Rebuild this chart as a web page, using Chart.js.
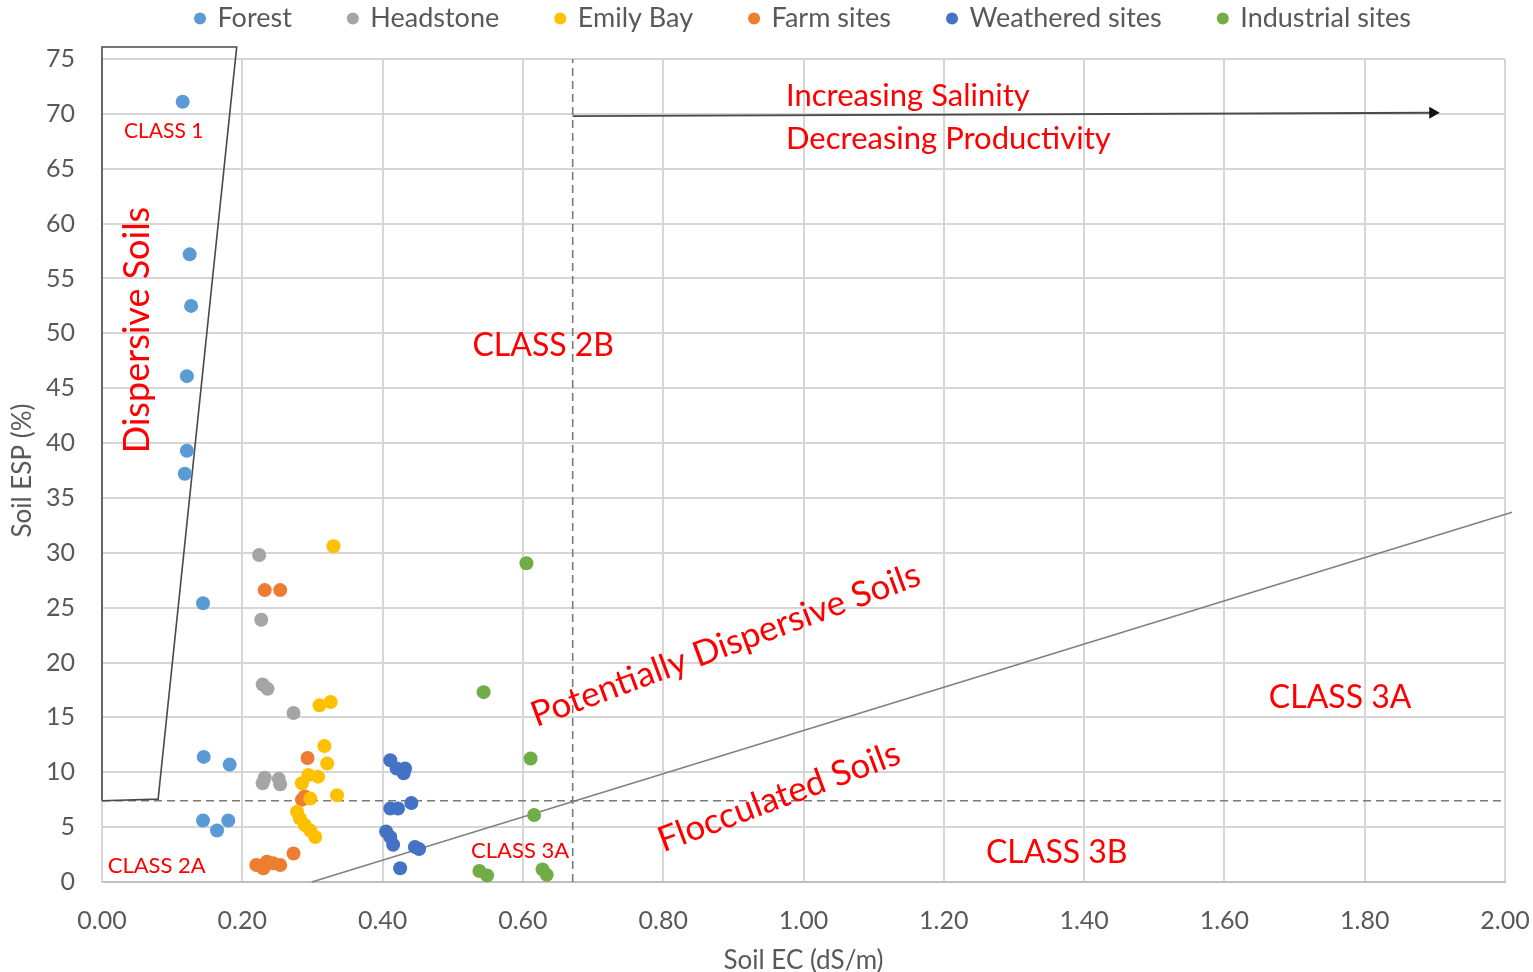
<!DOCTYPE html>
<html>
<head>
<meta charset="utf-8">
<title>Soil EC vs ESP</title>
<script src="https://cdn.jsdelivr.net/npm/chart.js@4/dist/chart.umd.min.js"></script>
<style>
  html, body { margin: 0; padding: 0; background: #ffffff; }
  #wrap { width: 1533px; height: 972px; position: relative; }
</style>
</head>
<body>
<div id="wrap"><canvas id="chart" width="1533" height="972"></canvas></div>
<script>
// ---- Site measurements: soil EC (dS/m) and ESP (%) ----
const forestEC = [0.115, 0.125, 0.127, 0.121, 0.121, 0.118, 0.144, 0.145, 0.182, 0.144, 0.164, 0.180];
const forestESP = [71.1, 57.2, 52.5, 46.1, 39.3, 37.2, 25.4, 11.4, 10.7, 5.6, 4.7, 5.6];

const headstoneEC = [0.224, 0.227, 0.229, 0.236, 0.273, 0.229, 0.232, 0.252, 0.254];
const headstoneESP = [29.8, 23.9, 18.0, 17.6, 15.4, 9.0, 9.5, 9.4, 8.9];

const emilyEC = [0.330, 0.310, 0.326, 0.317, 0.321, 0.294, 0.308, 0.285, 0.335, 0.297, 0.278, 0.282, 0.289, 0.297, 0.304];
const emilyESP = [30.6, 16.1, 16.4, 12.4, 10.8, 9.75, 9.6, 9.0, 7.9, 7.6, 6.4, 5.8, 5.2, 4.7, 4.1];

const farmEC = [0.232, 0.254, 0.293, 0.289, 0.285, 0.273, 0.220, 0.235, 0.230, 0.244, 0.254];
const farmESP = [26.6, 26.6, 11.3, 7.8, 7.5, 2.6, 1.55, 1.85, 1.25, 1.7, 1.55];

const weatheredEC = [0.411, 0.420, 0.432, 0.430, 0.411, 0.422, 0.441, 0.405, 0.411, 0.415, 0.446, 0.452, 0.425];
const weatheredESP = [11.1, 10.35, 10.35, 9.9, 6.7, 6.7, 7.2, 4.6, 4.1, 3.4, 3.2, 3.0, 1.25];

const industrialEC = [0.605, 0.544, 0.611, 0.616, 0.538, 0.549, 0.628, 0.634];
const industrialESP = [29.05, 17.3, 11.25, 6.1, 1.0, 0.6, 1.15, 0.65];

const seriesNames = ['Forest', 'Headstone', 'Emily Bay', 'Farm sites', 'Weathered sites', 'Industrial sites'];

// ---- Classification boundaries ----
const class1BoxEC = [0, 0, 0.192, 0.080, 0];
const class1BoxESP = [7.4, 76.1, 76.1, 7.55, 7.4];
const espThresholdEC = [0, 2.0];
const espThresholdESP = [7.4, 7.4];
const ecThresholdEC = [0.671, 0.671];
const ecThresholdESP = [0, 75];
const salinityArrowEC = [0.671, 1.897];
const salinityArrowESP = [69.8, 70.1];
const flocculationEC = [0.299, 2.01];
const flocculationESP = [0, 33.7];

// ---- Axis ticks ----
const xTickValues = [0, 0.2, 0.4, 0.6, 0.8, 1.0, 1.2, 1.4, 1.6, 1.8, 2.0];
const yTickValues = [0, 5, 10, 15, 20, 25, 30, 35, 40, 45, 50, 55, 60, 65, 70, 75];

const toPoints = (xs, ys) => xs.map((x, i) => ({ x: x, y: ys[i] }));

const colors = ['#5B9BD5', '#A5A5A5', '#FFC000', '#ED7D31', '#4472C4', '#70AD47'];
const seriesData = [
  toPoints(forestEC, forestESP),
  toPoints(headstoneEC, headstoneESP),
  toPoints(emilyEC, emilyESP),
  toPoints(farmEC, farmESP),
  toPoints(weatheredEC, weatheredESP),
  toPoints(industrialEC, industrialESP)
];

const scatterSets = seriesNames.map((name, i) => ({
  type: 'scatter',
  label: name,
  data: seriesData[i],
  backgroundColor: colors[i],
  borderWidth: 0,
  pointRadius: 7,
  pointHoverRadius: 7,
  pointStyle: 'circle',
  clip: false
}));

function lineSet(label, xs, ys, color, width, dash, extra) {
  return Object.assign({
    type: 'line',
    label: label,
    data: toPoints(xs, ys),
    borderColor: color,
    backgroundColor: color,
    borderWidth: width,
    borderDash: dash,
    pointRadius: 0,
    fill: false,
    tension: 0,
    clip: false
  }, extra || {});
}

const boundarySets = [
  lineSet('class1', class1BoxEC, class1BoxESP, '#4a4a4a', 1.6, []),
  lineSet('espThreshold', espThresholdEC, espThresholdESP, '#7a7a7a', 1.6, [8, 5]),
  lineSet('ecThreshold', ecThresholdEC, ecThresholdESP, '#7a7a7a', 1.6, [8, 5]),
  lineSet('salinity', salinityArrowEC, salinityArrowESP, '#4a4a4a', 1.8, [], {
    pointRadius: [0, 7],
    pointStyle: 'triangle',
    pointRotation: 90,
    pointBackgroundColor: '#111111',
    pointBorderWidth: 0
  }),
  lineSet('flocculation', flocculationEC, flocculationESP, '#808080', 1.6, [])
];

// Region labels, anchored in data coordinates
const regionLabels = [
  { text: 'CLASS 1', x: 0.088, y: 68.4, size: 21, rot: 0, align: 'center' },
  { text: 'Dispersive Soils', x: 0.050, y: 50.3, size: 36, rot: -90, align: 'center' },
  { text: 'CLASS 2B', x: 0.629, y: 48.9, size: 32, rot: 0, align: 'center' },
  { text: 'Increasing Salinity', x: 0.975, y: 71.65, size: 31, rot: 0, align: 'left' },
  { text: 'Decreasing Productivity', x: 0.975, y: 67.7, size: 31, rot: 0, align: 'left' },
  { text: 'Potentially Dispersive Soils', x: 0.889, y: 21.6, size: 35, rot: -20.3, align: 'center' },
  { text: 'CLASS 3A', x: 1.765, y: 16.8, size: 32, rot: 0, align: 'center' },
  { text: 'Flocculated Soils', x: 0.965, y: 7.75, size: 35, rot: -20.5, align: 'center' },
  { text: 'CLASS 3B', x: 1.361, y: 2.64, size: 32, rot: 0, align: 'center' },
  { text: 'CLASS 3A', x: 0.596, y: 2.83, size: 22, rot: 0, align: 'center' },
  { text: 'CLASS 2A', x: 0.078, y: 1.46, size: 22, rot: 0, align: 'center' }
];

const regionLabelPlugin = {
  id: 'regionLabels',
  afterDatasetsDraw(chart) {
    const ctx = chart.ctx;
    const xs = chart.scales.x, ys = chart.scales.y;
    ctx.save();
    ctx.fillStyle = '#FF0000';
    ctx.textBaseline = 'middle';
    regionLabels.forEach(l => {
      const px = xs.getPixelForValue(l.x);
      const py = ys.getPixelForValue(l.y);
      ctx.save();
      ctx.translate(px, py);
      ctx.rotate(l.rot * Math.PI / 180);
      ctx.font = l.size + 'px Lato';
      ctx.textAlign = l.align;
      ctx.fillText(l.text, 0, 0);
      ctx.restore();
    });
    ctx.restore();
  }
};

Chart.defaults.font.family = 'Lato';
Chart.defaults.color = '#595959';

new Chart(document.getElementById('chart'), {
  type: 'scatter',
  data: { datasets: scatterSets.concat(boundarySets) },
  options: {
    responsive: false,
    animation: false,
    events: [],
    layout: { padding: { top: -52, left: 0, right: 28, bottom: 0 } },
    plugins: {
      tooltip: { enabled: false },
      legend: {
        position: 'top',
        fullSize: false,
        labels: {
          filter: item => item.datasetIndex < seriesNames.length,
          usePointStyle: true,
          pointStyle: 'circle',
          boxWidth: 8,
          boxHeight: 8.5,
          padding: 57,
          color: '#595959',
          font: { size: 27 }
        }
      },
      subtitle: {
        display: true,
        text: '',
        weight: 100,
        padding: { top: 16, bottom: 0 },
        font: { size: 1, lineHeight: 1 }
      }
    },
    scales: {
      x: {
        type: 'linear',
        min: 0,
        max: 2,
        afterBuildTicks: s => { s.ticks = xTickValues.map(v => ({ value: v })); },
        afterFit: s => { s.height = 90; },
        ticks: {
          padding: 2,
          color: '#595959',
          font: { size: 25 },
          callback: v => Number(v).toFixed(2)
        },
        grid: {
          color: '#D6D6D6',
          lineWidth: 2,
          drawTicks: true,
          tickLength: 22,
          tickColor: 'rgba(0,0,0,0)'
        },
        border: { color: '#BFBFBF', width: 2 },
        title: {
          display: true,
          text: 'Soil EC (dS/m)',
          color: '#595959',
          font: { size: 26 },
          padding: { top: 0, bottom: -4 }
        }
      },
      y: {
        type: 'linear',
        min: 0,
        max: 75,
        afterBuildTicks: s => { s.ticks = yTickValues.map(v => ({ value: v })); },
        afterFit: s => { s.width = 102; },
        ticks: {
          padding: 27,
          color: '#595959',
          font: { size: 25 }
        },
        grid: { color: '#D6D6D6', lineWidth: 2, drawTicks: false },
        border: { color: '#D6D6D6', width: 2 },
        title: {
          display: true,
          text: 'Soil ESP (%)',
          color: '#595959',
          font: { size: 26 },
          padding: { top: 7, bottom: 0 }
        }
      }
    }
  },
  plugins: [regionLabelPlugin]
});
</script>
</body>
</html>
